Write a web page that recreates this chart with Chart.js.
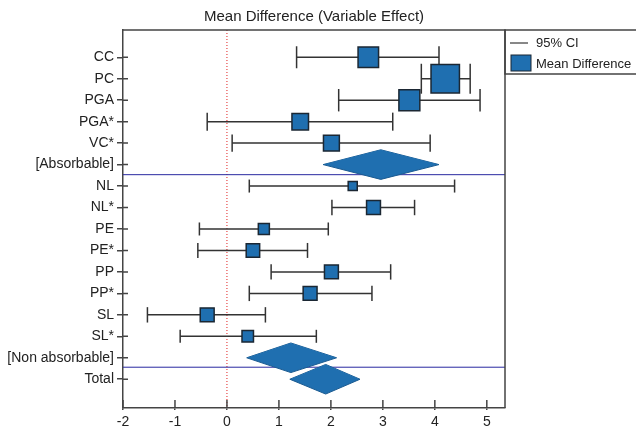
<!DOCTYPE html>
<html>
<head>
<meta charset="utf-8">
<script src="https://cdn.jsdelivr.net/npm/chart.js@4.4.1/dist/chart.umd.min.js"></script>
<style>
  html, body { margin: 0; padding: 0; background: #fff; }
  #wrap { width: 636px; height: 432px; position: relative; }
</style>
</head>
<body>
<div id="wrap"><canvas id="chart"></canvas></div>
<script>
// rows of the forest plot, top to bottom
const categories = ['CC', 'PC', 'PGA', 'PGA*', 'VC*', '[Absorbable]', 'NL', 'NL*', 'PE', 'PE*', 'PP', 'PP*', 'SL', 'SL*', '[Non absorbable]', 'Total'];
const meanDiff = [2.72, 4.20, 3.51, 1.41, 2.01, 2.96, 2.42, 2.82, 0.71, 0.50, 2.01, 1.60, -0.38, 0.40, 1.23, 1.90];
const ciLow    = [1.34, 3.74, 2.15, -0.38, 0.10, 1.85, 0.43, 2.02, -0.53, -0.56, 0.85, 0.43, -1.53, -0.90, 0.38, 1.21];
const ciHigh   = [4.08, 4.68, 4.87, 3.19, 3.91, 4.08, 4.38, 3.61, 1.95, 1.55, 3.15, 2.79, 0.74, 1.72, 2.11, 2.56];
// study weights (null = pooled estimate, drawn as a diamond)
const weights  = [10.0, 13.6, 10.2, 8.2, 7.9, null, 4.8, 7.0, 5.7, 6.8, 7.0, 7.0, 7.0, 5.9, null, null];
const xTicks = [-2, -1, 0, 1, 2, 3, 4, 5];
const groupBreaks = [5.47, 14.44];

const FONT = "'Liberation Sans', Arial, sans-serif";
const BLUE = '#1f6fb0';
const INK = '#333';
const xMin = -2, xMax = 5.35, yMin = -1.27, yMax = 16.34;

const boxSide = w => 2.2 * w;
const studyIdx = categories.map((c, i) => i).filter(i => weights[i] !== null);
const pooledIdx = categories.map((c, i) => i).filter(i => weights[i] === null);

let datasets = [];

// zero line
datasets.push({
  data: [{x: 0, y: yMin}, {x: 0, y: yMax}],
  borderColor: '#e02020', borderWidth: 1, borderDash: [1, 2],
  pointRadius: 0, order: 10
});
// group separators
groupBreaks.forEach(b => datasets.push({
  data: [{x: xMin, y: b}, {x: xMax, y: b}],
  borderColor: '#2828a0', borderWidth: 1, pointRadius: 0, order: 9
}));

// CI lines
let ciData = [];
studyIdx.forEach(i => {
  ciData.push({x: ciLow[i], y: i}, {x: ciHigh[i], y: i}, {x: ciHigh[i], y: null});
});
datasets.push({
  data: ciData, borderColor: INK, borderWidth: 1.5, pointRadius: 0, order: 6
});
// caps
let capData = [], capR = [];
studyIdx.forEach(i => {
  const r = Math.max(boxSide(weights[i]), 13) / 2;
  capData.push({x: ciLow[i], y: i}, {x: ciHigh[i], y: i});
  capR.push(r, r);
});
datasets.push({
  data: capData, showLine: false, pointStyle: 'line', rotation: 90,
  pointRadius: capR, pointBorderColor: INK, pointBorderWidth: 1.5, order: 5
});

// diamonds for pooled rows
pooledIdx.forEach(i => {
  const h = 0.69;
  datasets.push({
    data: [{x: ciLow[i], y: i}, {x: meanDiff[i], y: i - h}, {x: ciHigh[i], y: i}],
    borderColor: '#1a5a90', borderWidth: 1, pointRadius: 0, fill: false, order: 4
  });
  datasets.push({
    data: [{x: ciLow[i], y: i}, {x: meanDiff[i], y: i + h}, {x: ciHigh[i], y: i}],
    borderColor: '#1a5a90', borderWidth: 1, pointRadius: 0,
    fill: '-1', backgroundColor: BLUE, order: 3
  });
});

// mean difference squares
datasets.push({
  data: studyIdx.map(i => ({x: meanDiff[i], y: i})),
  showLine: false, pointStyle: 'rect',
  pointRadius: studyIdx.map(i => (boxSide(weights[i]) - 1.5) / Math.SQRT2),
  pointBackgroundColor: BLUE, pointBorderColor: '#1b2733', pointBorderWidth: 1.5,
  order: 1
});

const extras = {
  id: 'extras',
  afterDraw(chart) {
    const ctx = chart.ctx, a = chart.chartArea;
    const xs = chart.scales.x, ys = chart.scales.y;
    ctx.save();
    ctx.strokeStyle = '#444';
    ctx.lineWidth = 1.5;
    // inner tick marks
    ctx.beginPath();
    xTicks.forEach(v => {
      const px = xs.getPixelForValue(v);
      ctx.moveTo(px, a.bottom); ctx.lineTo(px, a.bottom - 8);
    });
    categories.forEach((c, i) => {
      const py = ys.getPixelForValue(i);
      ctx.moveTo(a.left, py); ctx.lineTo(a.left + 5, py);
    });
    // top and right frame
    ctx.moveTo(a.left, a.top); ctx.lineTo(a.right, a.top); ctx.lineTo(a.right, a.bottom);
    ctx.stroke();

    // legend box
    const lx = a.right, ly = a.top, lb = a.top + 44;
    ctx.beginPath();
    ctx.moveTo(chart.width + 2, ly); ctx.lineTo(lx, ly); ctx.lineTo(lx, lb); ctx.lineTo(chart.width + 2, lb);
    ctx.stroke();
    ctx.strokeStyle = '#111';
    ctx.lineWidth = 1;
    ctx.beginPath();
    ctx.moveTo(lx + 5, ly + 13); ctx.lineTo(lx + 23, ly + 13);
    ctx.stroke();
    ctx.fillStyle = BLUE;
    ctx.fillRect(lx + 6, ly + 25, 20, 16);
    ctx.strokeStyle = '#1b2733';
    ctx.strokeRect(lx + 6, ly + 25, 20, 16);
    ctx.fillStyle = '#222';
    ctx.font = '13px ' + FONT;
    ctx.textBaseline = 'middle';
    ctx.textAlign = 'left';
    ctx.fillText('95% CI', lx + 31, ly + 13);
    ctx.fillText('Mean Difference', lx + 31, ly + 34);
    ctx.restore();
  }
};

new Chart(document.getElementById('chart'), {
  type: 'line',
  data: { datasets: datasets },
  options: {
    responsive: true,
    maintainAspectRatio: false,
    animation: false,
    layout: { padding: { left: 0, right: 131, top: 0, bottom: 0 } },
    plugins: {
      legend: { display: false },
      tooltip: { enabled: false },
      title: {
        display: true,
        text: 'Mean Difference (Variable Effect)',
        fullSize: false,
        color: '#222',
        font: { family: FONT, size: 15, weight: 'normal' },
        padding: { top: 8, bottom: 4 }
      }
    },
    scales: {
      x: {
        type: 'linear', min: xMin, max: xMax,
        afterBuildTicks: s => { s.ticks = xTicks.map(v => ({value: v})); },
        afterFit: s => { s.height = 24; },
        ticks: { color: '#222', font: { family: FONT, size: 14 }, padding: 4, autoSkip: false, maxRotation: 0 },
        grid: { drawOnChartArea: false, tickLength: 2, color: '#444', lineWidth: 1.5 },
        border: { color: '#444', width: 1.5 }
      },
      y: {
        type: 'linear', reverse: true, min: yMin, max: yMax,
        afterBuildTicks: s => { s.ticks = categories.map((c, i) => ({value: i})); },
        afterFit: s => { s.width = 123; },
        ticks: { color: '#222', font: { family: FONT, size: 14 }, padding: 3, autoSkip: false,
                 callback: v => categories[v] },
        grid: { drawOnChartArea: false, tickLength: 6, color: '#444', lineWidth: 1.5 },
        border: { color: '#444', width: 1.5 }
      }
    }
  },
  plugins: [extras]
});
</script>
</body>
</html>
